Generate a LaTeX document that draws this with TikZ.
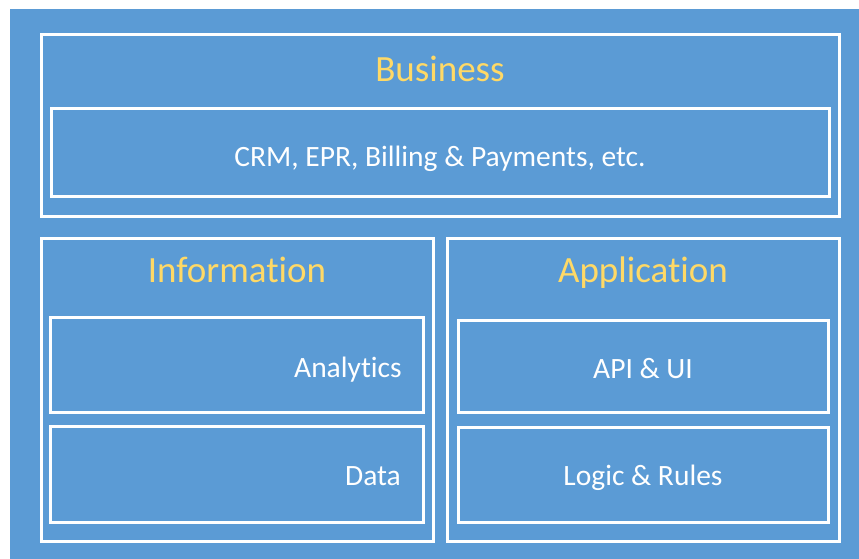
\documentclass[tikz,border=0pt]{standalone}
\usepackage{fontspec}
\setmainfont[Ligatures=NoCommon]{Carlito}
\definecolor{bgblue}{HTML}{5B9BD5}
\definecolor{titleyellow}{HTML}{FFD966}
\begin{document}
\begin{tikzpicture}[x=1pt,y=-1pt,
  frame/.style={draw=white,line width=3pt},
  title/.style={text=titleyellow,font=\fontsize{37}{44}\selectfont,inner sep=0pt,anchor=base},
  label/.style={text=white,font=\fontsize{29.5}{35}\selectfont,inner sep=0pt,anchor=base}]
\useasboundingbox (0,0) rectangle (859,559);
\fill[white] (0,0) rectangle (859,559);
\fill[bgblue] (10,9) rectangle (859,559);
% outer frames
\draw[frame] (41,34.5) rectangle (839.5,216.5);
\draw[frame] (41,238) rectangle (433.3,541);
\draw[frame] (447,238) rectangle (839.5,541);
% inner frames
\draw[frame] (51.5,108.5) rectangle (829,196.7);
\draw[frame] (50.7,317.5) rectangle (423.5,412.3);
\draw[frame] (50.7,426.5) rectangle (423.5,522);
\draw[frame] (458.8,320.8) rectangle (828.7,412.3);
\draw[frame] (458.8,427.3) rectangle (828.7,522.5);
% titles
\node[title] (business) at (440,81.5) {Business};
\node[title] (information) at (237,282.5) {Information};
\node[title] (application) at (643,282) {Application};
% labels
\node[label] (crm) at (440,166) {CRM, EPR, Billing \& Payments, etc.};
\node[label,anchor=base east] (analytics) at (402,377) {Analytics};
\node[label,anchor=base east] (data) at (401,485) {Data};
\node[label] (api) at (643,378) {API \& UI};
\node[label] (logic) at (643,485) {Logic \& Rules};
\end{tikzpicture}
\end{document}
